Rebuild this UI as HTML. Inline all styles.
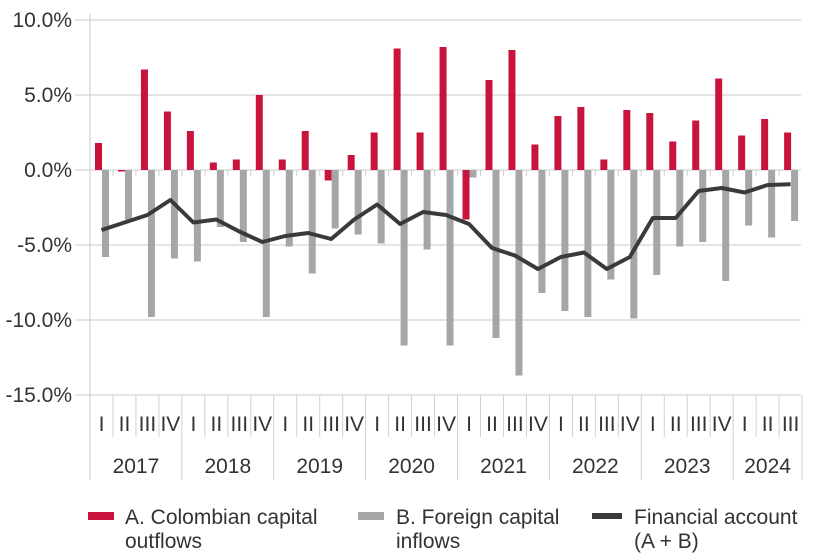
<!DOCTYPE html>
<html><head><meta charset="utf-8"><style>
body{margin:0;background:#fff;width:820px;height:554px;overflow:hidden}
svg text{font-family:"Liberation Sans",Arial,sans-serif;fill:#333}
</style></head><body>
<svg id="c" width="820" height="554" xmlns="http://www.w3.org/2000/svg"></svg>
<script>
const s=document.getElementById('c');let h='';
const y=v=>170-v*15, L=90, W=22.97, FS=21;
for(let v=10;v>=-15;v-=5){h+=`<line x1="75" x2="801" y1="${y(v)}" y2="${y(v)}" stroke="#c8c8c8" stroke-width="1"/>`;
h+=`<text x="72" y="${y(v)+7}" font-size="${FS}" text-anchor="end">${v.toFixed(1)}%</text>`;}
h+=`<line x1="${L}" x2="${L}" y1="14" y2="480" stroke="#c8c8c8"/>`;
const R=[1.8,-0.1,6.7,3.9,2.6,0.5,0.7,5.0,0.7,2.6,-0.7,1.0,2.5,8.1,2.5,8.2,-3.3,6.0,8.0,1.7,3.6,4.2,0.7,4.0,3.8,1.9,3.3,6.1,2.3,3.4,2.5];
const G=[-5.8,-3.3,-9.8,-5.9,-6.1,-3.8,-4.8,-9.8,-5.1,-6.9,-3.9,-4.3,-4.9,-11.7,-5.3,-11.7,-0.5,-11.2,-13.7,-8.2,-9.4,-9.8,-7.3,-9.9,-7.0,-5.1,-4.8,-7.4,-3.7,-4.5,-3.4];
const F=[-4.0,-3.5,-3.0,-2.0,-3.5,-3.3,-4.1,-4.8,-4.4,-4.2,-4.6,-3.3,-2.3,-3.6,-2.8,-3.0,-3.6,-5.2,-5.7,-6.6,-5.8,-5.5,-6.6,-5.8,-3.2,-3.2,-1.4,-1.2,-1.5,-1.0,-0.95];
const Q=['I','II','III','IV'];let pts=[];
for(let i=0;i<31;i++){const x=L+i*W;
 const r=R[i];h+=`<rect x="${x+5}" y="${Math.min(y(r),170)}" width="7" height="${Math.abs(r*15)}" fill="#c8143c"/>`;
 const g=G[i];h+=`<rect x="${x+12}" y="170" width="7" height="${-g*15}" fill="#a6a6a6"/>`;
 pts.push(`${(x+W/2).toFixed(1)},${y(F[i]).toFixed(1)}`);
 if(i>0){const yr=i%4==0;h+=`<line x1="${x}" x2="${x}" y1="395" y2="${yr?480:437}" stroke="#d0d0d0"/>`;
  h+=`<line x1="${x}" x2="${x}" y1="170" y2="176" stroke="#d0d0d0"/>`;}
 h+=`<text x="${x+W/2}" y="431" font-size="${FS}" text-anchor="middle">${Q[i%4]}</text>`;}
h+=`<line x1="${L+31*W}" x2="${L+31*W}" y1="395" y2="480" stroke="#d0d0d0"/>`;
h+=`<polyline points="${pts.join(' ')}" fill="none" stroke="#3a3a3a" stroke-width="4" stroke-linejoin="round"/>`;
for(let k=0;k<8;k++){const n=k==7?3:4;const cx=L+(k*4+n/2)*W;h+=`<text x="${cx}" y="473" font-size="${FS}" text-anchor="middle">${2017+k}</text>`;}
h+=`<rect x="88" y="512" width="26" height="8" fill="#c8143c"/><text x="125" y="524" font-size="${FS}">A. Colombian capital</text><text x="125" y="548" font-size="${FS}">outflows</text>`;
h+=`<rect x="358" y="512" width="26" height="8" fill="#a6a6a6"/><text x="396" y="524" font-size="${FS}">B. Foreign capital</text><text x="396" y="548" font-size="${FS}">inflows</text>`;
h+=`<rect x="592" y="513" width="30" height="6" fill="#3a3a3a"/><text x="634" y="524" font-size="${FS}">Financial account</text><text x="634" y="548" font-size="${FS}">(A + B)</text>`;
s.innerHTML=h;
</script></body></html>
